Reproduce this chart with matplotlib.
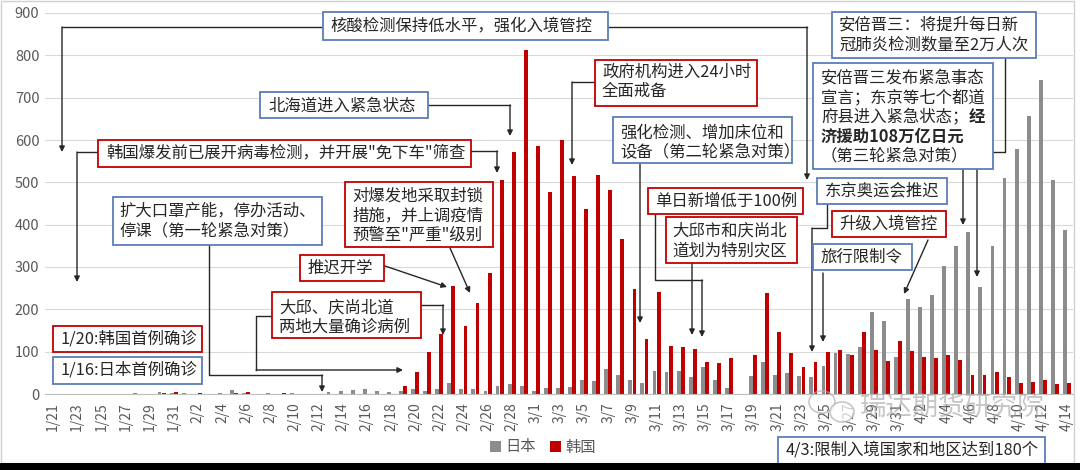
import numpy as np
import pandas as pd
import matplotlib
matplotlib.use('Agg')
import matplotlib.pyplot as plt
from matplotlib.patches import Rectangle, FancyArrowPatch, Ellipse
from matplotlib.lines import Line2D

plt.rcParams['font.family'] = ['Noto Sans CJK SC', 'DejaVu Sans']

# 每日新增确诊 1/21 - 4/14
dates = pd.date_range('2020-01-21', '2020-04-14')
date_labels = [f"{d.month}/{d.day}" for d in dates]

japan_jan = [0, 0, 0, 1, 1, 1, 0, 3, 1, 4, 3]
japan_feb = [3, 0, 0, 2, 10, 3, 1, 2, 0, 2, 0, 1, 4, 8, 9, 12, 6, 5, 8, 11,
             7, 11, 27, 11, 12, 6, 20, 24, 19]
japan_mar = [8, 14, 13, 16, 33, 31, 59, 46, 33, 25, 54, 52, 54, 40, 63, 33, 15, 0,
             42, 76, 45, 49, 43, 39, 65, 98, 94, 112, 193, 172, 87]
japan_apr = [224, 206, 233, 302, 350, 383, 252, 350, 510, 578, 656, 742, 506, 388]

korea_jan = [0, 0, 0, 1, 0, 0, 1, 0, 0, 2, 4]
korea_feb = [1, 3, 0, 1, 3, 4, 1, 0, 3, 0, 1, 0, 0, 0, 0, 1, 1, 1, 20, 53,
             100, 142, 255, 161, 214, 285, 505, 571, 813]
korea_mar = [586, 476, 600, 516, 438, 518, 482, 367, 248, 131, 242, 114, 110, 107, 76, 74, 84, 0,
             93, 238, 147, 98, 64, 76, 100, 104, 91, 146, 105, 78, 125]
korea_apr = [101, 88, 85, 93, 80, 45, 45, 52, 39, 25, 28, 33, 24, 25]

japan = japan_jan + japan_feb + japan_mar + japan_apr
korea = korea_jan + korea_feb + korea_mar + korea_apr

W, H = 1080, 470
fig = plt.figure(figsize=(W / 100, H / 100), dpi=100, facecolor='white')


def fx(x):
    return x / W


def fy(y):
    return 1 - y / H


# plot area in pixels
left, right, top, bottom = 45, 1073, 13, 394
ax = fig.add_axes([fx(left), fy(bottom), (right - left) / W, (bottom - top) / H])

x = np.arange(len(dates))
bw = 0.32
bar_jp = ax.bar(x - 0.17, japan, width=bw, color='#8C8C8C', label='日本', zorder=2)
bar_kr = ax.bar(x + 0.17, korea, width=bw, color='#C00000', label='韩国', zorder=2)

ax.set_xlim(-0.66, 84.5)
ax.set_ylim(0, 900)
ax.set_yticks(range(0, 901, 100))
ax.set_xticks(x[::2])
ax.set_xticklabels(date_labels[::2], rotation=90, fontsize=10, color='#595959')
ax.tick_params(axis='y', length=0, pad=4, labelsize=10.5, labelcolor='#595959')
ax.tick_params(axis='x', length=0, pad=6)
ax.grid(axis='y', color='#D9D9D9', linewidth=0.8, zorder=0)
for s in ['top', 'right', 'left']:
    ax.spines[s].set_visible(False)
ax.spines['bottom'].set_color('#BFBFBF')
ax.set_axisbelow(True)

fig.legend(handles=[bar_jp, bar_kr], labels=['日本', '韩国'], loc='center',
           bbox_to_anchor=(fx(543), fy(447)), ncol=2, frameon=False, fontsize=11,
           handlelength=0.7, handleheight=0.7, handletextpad=0.3, columnspacing=0.9,
           labelcolor='#595959')

BLUE = '#5A7DBA'
RED = '#C00000'
FS = 11.8
EM = FS * 100 / 72
PITCH = 19.6

# (box x0, y0, x1, y1, edge colour, text x, first line y, lines)
notes = [
    (323, 12, 608, 40, BLUE, 330, 26, ['核酸检测保持低水平，强化入境管控']),
    (260, 92, 428, 118, BLUE, 268, 106, ['北海道进入紧急状态']),
    (98, 140, 471, 167, RED, 106, 153, ['韩国爆发前已展开病毒检测，并开展"免下车"筛查']),
    (113, 197, 322, 245, BLUE, 119, 211, ['扩大口罩产能，停办活动、', '停课（第一轮紧急对策）']),
    (345, 182, 493, 247, RED, 352, 196, ['对爆发地采取封锁', '措施，并上调疫情', '预警至"严重"级别']),
    (300, 255, 384, 281, RED, 307, 268, ['推迟开学']),
    (272, 292, 421, 338, RED, 279, 308, ['大邱、庆尚北道', '两地大量确诊病例']),
    (53, 326, 202, 352, RED, 60, 339, ['1/20:韩国首例确诊']),
    (53, 357, 202, 384, BLUE, 60, 370, ['1/16:日本首例确诊']),
    (595, 60, 757, 106, RED, 602, 72, ['政府机构进入24小时', '全面戒备']),
    (613, 117, 792, 163, BLUE, 620, 133, ['强化检测、增加床位和', '设备（第二轮紧急对策）']),
    (648, 188, 803, 214, RED, 655, 201, ['单日新增低于100例']),
    (666, 217, 797, 263, RED, 672, 231, ['大邱市和庆尚北', '道划为特别灾区']),
    (817, 178, 947, 204, BLUE, 825, 191, ['东京奥运会推迟']),
    (832, 211, 946, 237, RED, 839, 224, ['升级入境管控']),
    (813, 244, 912, 270, BLUE, 820, 257, ['旅行限制令']),
    (832, 12, 1036, 58, BLUE, 839, 25, ['安倍晋三：将提升每日新', '冠肺炎检测数量至2万人次']),
    (813, 63, 993, 169, BLUE, 821, 78, ['安倍晋三发布紧急事态', '宣言；东京等七个都道',
                                        '府县进入紧急状态；', None, '（第三轮紧急对策）']),
    (778, 437, 1045, 464, BLUE, 786, 450, ['4/3:限制入境国家和地区达到180个']),
]

for x0, y0, x1, y1, col, tx, ty, lines in notes:
    fig.add_artist(Rectangle((fx(x0), fy(y1)), (x1 - x0) / W, (y1 - y0) / H,
                             transform=fig.transFigure, facecolor='white',
                             edgecolor=col, linewidth=1.3, zorder=5))
    for i, s in enumerate(lines):
        if s is None:
            continue
        fig.text(fx(tx), fy(ty + i * PITCH), s, ha='left', va='center',
                 fontsize=FS, color='#262626', zorder=6)

# bold part of the third-round note
fig.text(fx(821 + 9 * EM), fy(78 + 2 * PITCH), '经', ha='left', va='center',
         fontsize=FS, color='#262626', fontweight='bold', zorder=6)
fig.text(fx(821), fy(78 + 3 * PITCH), '济援助108万亿日元', ha='left', va='center',
         fontsize=FS, color='#262626', fontweight='bold', zorder=6)

# connector paths (pixels); last segment carries the arrow head
paths = [
    [(323, 27), (62, 27), (62, 152)],
    [(608, 27), (807, 27), (807, 180)],
    [(428, 105), (510, 105), (510, 136)],
    [(471, 151), (497, 151), (497, 173)],
    [(98, 152), (77, 152), (77, 282)],
    [(209, 245), (209, 375), (322, 375), (322, 392)],
    [(450, 248), (470, 293)],
    [(385, 266), (447, 287)],
    [(421, 305), (443, 305), (443, 335)],
    [(272, 316), (256, 316), (256, 370), (403, 370)],
    [(595, 82), (572, 82), (572, 165)],
    [(640, 163), (640, 323)],
    [(655, 214), (655, 280), (702, 280), (702, 337)],
    [(692, 263), (692, 335)],
    [(827, 204), (827, 228), (812, 228), (812, 352)],
    [(928, 240), (904, 294)],
    [(823, 273), (823, 342)],
    [(1005, 58), (1005, 152), (963, 152), (963, 225)],
    [(977, 169), (977, 277)],
]

for p in paths:
    if len(p) > 2:
        xs = [fx(a) for a, b in p[:-1]]
        ys = [fy(b) for a, b in p[:-1]]
        fig.add_artist(Line2D(xs, ys, transform=fig.transFigure, color='#262626',
                              linewidth=1.0, zorder=4))
    (ax0, ay0), (ax1, ay1) = p[-2], p[-1]
    fig.add_artist(FancyArrowPatch((fx(ax0), fy(ay0)), (fx(ax1), fy(ay1)),
                                   transform=fig.transFigure, arrowstyle='-|>',
                                   mutation_scale=8, color='#262626', linewidth=1.0,
                                   shrinkA=0, shrinkB=0, zorder=4))

# watermark
fig.add_artist(Ellipse((fx(822), fy(402)), 26 / W, 22 / H, transform=fig.transFigure,
                       facecolor='none', edgecolor='#B0B0B0', linewidth=1.2, alpha=0.7, zorder=7))
fig.add_artist(Ellipse((fx(842), fy(412)), 24 / W, 20 / H, transform=fig.transFigure,
                       facecolor='white', edgecolor='#B0B0B0', linewidth=1.2, alpha=0.7, zorder=7))
fig.text(fx(860), fy(407), '瑞达期货研究院', ha='left', va='center', fontsize=19,
         color='#A0A0A0', alpha=0.6, zorder=7)

# outer border and dark strip at the bottom
fig.add_artist(Rectangle((fx(1), fy(463)), 1073 / W, 462 / H, transform=fig.transFigure,
                         facecolor='none', edgecolor='#D0D0D0', linewidth=1.0, zorder=8))
fig.add_artist(Rectangle((0, 0), 1, 7 / H, transform=fig.transFigure,
                         facecolor='black', edgecolor='none', zorder=10))

fig.savefig('out.png', dpi=100, facecolor='white')
